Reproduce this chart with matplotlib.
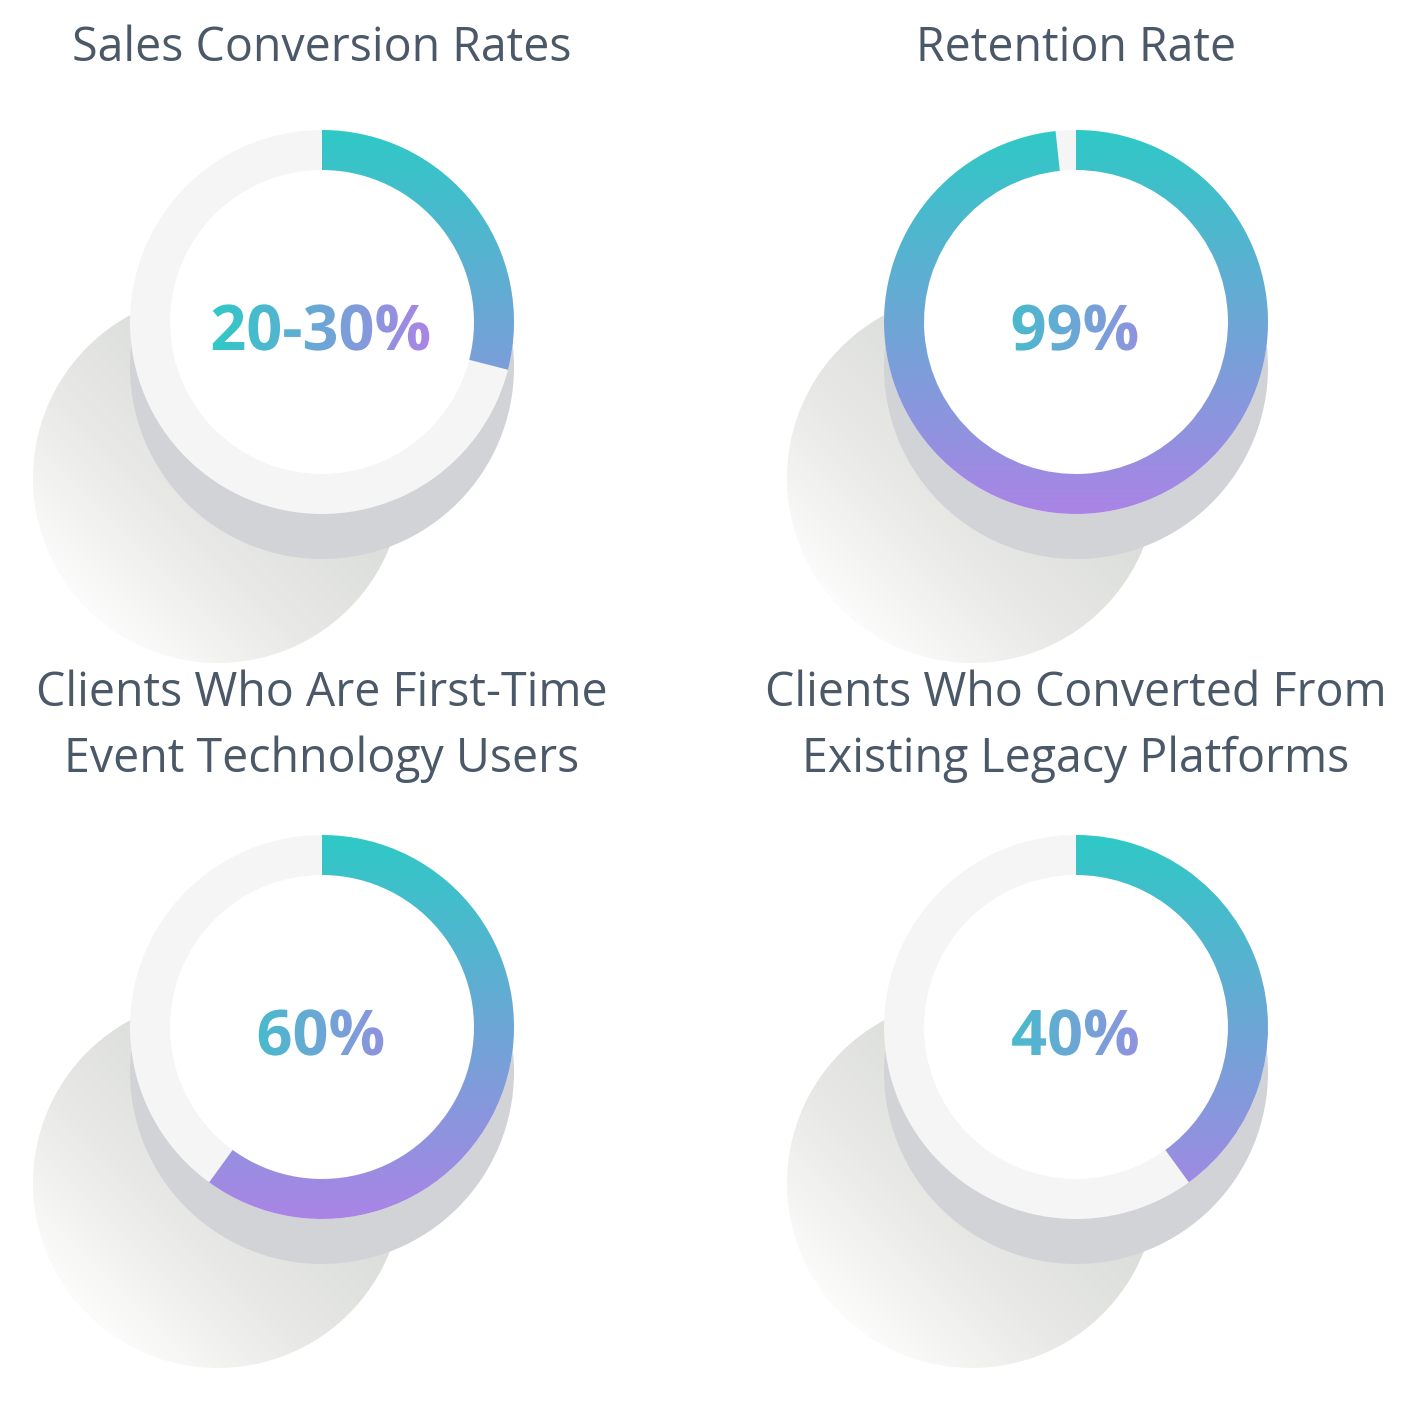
import numpy as np
import matplotlib
matplotlib.use("Agg")
import matplotlib.pyplot as plt
from matplotlib.patches import Circle, Wedge, PathPatch
from matplotlib.textpath import TextPath
from matplotlib.font_manager import FontProperties
from matplotlib.colors import LinearSegmentedColormap
from matplotlib.transforms import Affine2D

# data
titles = ["Sales Conversion Rates", "Retention Rate",
          "Clients Who Are First-Time\nEvent Technology Users",
          "Clients Who Converted From\nExisting Legacy Platforms"]
labels = ["20-30%", "99%", "60%", "40%"]
values = [29, 98.3, 60, 40]   # share of the ring that is filled, in %

W, H = 1412, 1402
centers = [(322, 322), (1076, 322), (322, 1027), (1076, 1027)]
R_OUT, R_IN = 192, 152

ring_cmap = LinearSegmentedColormap.from_list("ring", ["#2ec9c6", "#ab84e6"])
shade_cmap = LinearSegmentedColormap.from_list("shade", ["#d9dbd7", "#e8e9e6", "#ffffff"])

fig = plt.figure(figsize=(W / 100, H / 100), dpi=100)
ax = fig.add_axes([0, 0, 1, 1])
ax.set_xlim(0, W)
ax.set_ylim(H, 0)
ax.axis("off")

bold = FontProperties(family="Open Sans", weight="bold")

for (cx, cy), title, label, val in zip(centers, titles, labels, values):
    # soft shadow, lower left
    sx, sy, sr = cx - 104, cy + 156, 185
    clip = Circle((sx, sy), sr, facecolor="none", edgecolor="none")
    ax.add_patch(clip)
    gx, gy = np.meshgrid(np.linspace(-1, 1, 200), np.linspace(-1, 1, 200))
    t = (-gx + gy) / 2.0  # -1 upper right .. 1 lower left
    t = np.clip((t + 0.4) / 1.2, 0, 1)
    im = ax.imshow(t, cmap=shade_cmap, vmin=0, vmax=1, aspect="auto",
                   extent=(sx - sr, sx + sr, sy + sr, sy - sr), origin="upper",
                   interpolation="bilinear", zorder=1)
    im.set_clip_path(clip)

    # solid gray shadow under the ring
    ax.add_patch(Circle((cx, cy + 45), R_OUT, facecolor="#d1d3d7", edgecolor="none", zorder=2))
    # ring background and white centre
    ax.add_patch(Circle((cx, cy), R_OUT, facecolor="#f5f5f5", edgecolor="none", zorder=3))
    ax.add_patch(Circle((cx, cy), R_IN, facecolor="#ffffff", edgecolor="none", zorder=4))

    # filled arc with vertical gradient
    arc = Wedge((cx, cy), R_OUT, -90, -90 + 3.6 * val, width=R_OUT - R_IN,
                facecolor="none", edgecolor="none")
    ax.add_patch(arc)
    grad = np.linspace(0, 1, 256).reshape(-1, 1)
    im = ax.imshow(grad, cmap=ring_cmap, aspect="auto",
                   extent=(cx - R_OUT, cx + R_OUT, cy + R_OUT, cy - R_OUT), origin="upper",
                   interpolation="bilinear", zorder=5)
    im.set_clip_path(arc)

    # gradient number in the middle
    tp = TextPath((0, 0), label, size=63, prop=bold)
    ext = tp.get_extents()
    tr = Affine2D().scale(1, -1).translate(cx - 1 - (ext.x0 + ext.x1) / 2, cy + 28) + ax.transData
    tpatch = PathPatch(tp, transform=tr, facecolor="none", edgecolor="none")
    ax.add_patch(tpatch)
    hgrad = np.linspace(0, 1, 256).reshape(1, -1)
    im = ax.imshow(hgrad, cmap=ring_cmap, aspect="auto",
                   extent=(cx - 110, cx + 110, cy + 45, cy - 45), origin="upper",
                   interpolation="bilinear", zorder=6)
    im.set_clip_path(tpatch)

    # title
    lines = title.split("\n")
    if cy < 500:
        bases = [61]
    else:
        bases = [706, 772]
    for line, b in zip(lines, bases):
        ax.text(cx, b, line, ha="center", va="baseline", fontsize=33.5,
                family="Open Sans", color="#4a5868", zorder=7)

ax.set_xlim(0, W)
ax.set_ylim(H, 0)
fig.savefig("out.png", dpi=100, facecolor="white")
